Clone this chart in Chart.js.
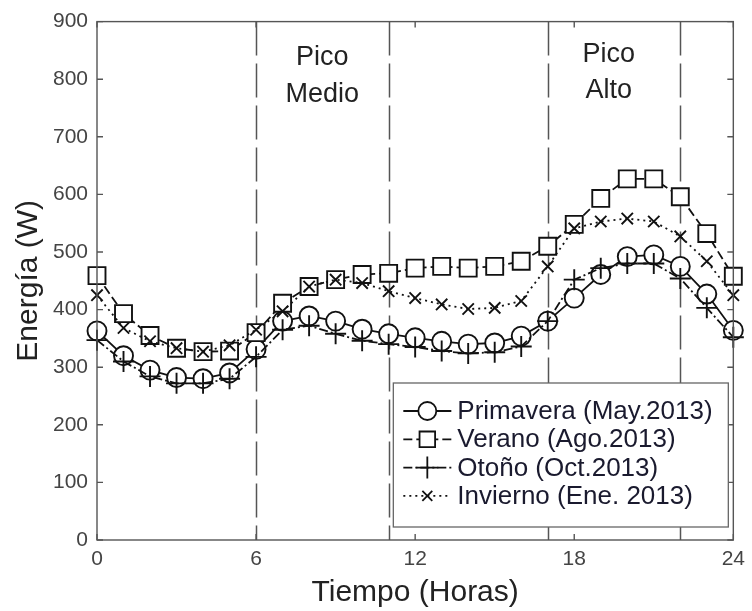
<!DOCTYPE html>
<html>
<head>
<meta charset="utf-8">
<script src="https://cdn.jsdelivr.net/npm/chart.js@4/dist/chart.umd.min.js"></script>
<style>
  body { margin: 0; background: #fff; }
  #wrap { width: 752px; height: 611px; }
</style>
</head>
<body>
<div id="wrap"><canvas id="energyChart"></canvas></div>
<script>
const hours = [0, 1, 2, 3, 4, 5, 6, 7, 8, 9, 10, 11, 12, 13, 14, 15, 16, 17, 18, 19, 20, 21, 22, 23, 24];
const primavera = [363, 320, 295, 282, 280, 290, 331, 380, 389, 380, 366, 358, 351, 345, 340, 342, 354, 380, 420, 461, 492, 495, 475, 427, 364];
const verano = [459, 393, 355, 333, 327, 328, 360, 411, 440, 452, 461, 463, 472, 475, 472, 475, 484, 510, 548, 593, 627, 627, 596, 532, 458];
const otono = [347, 310, 284, 272, 272, 280, 318, 365, 372, 358, 346, 340, 335, 328, 324, 326, 336, 380, 452, 472, 480, 480, 454, 403, 352];
const invierno = [425, 368, 345, 333, 327, 338, 365, 397, 440, 452, 446, 432, 420, 409, 401, 403, 415, 475, 541, 553, 558, 553, 527, 484, 425];
const seriesLabels = ["Primavera (May.2013)", "Verano (Ago.2013)", "Otoño (Oct.2013)", "Invierno (Ene. 2013)"];
const xTicks = [0, 6, 12, 18, 24];
const yTicks = [0, 100, 200, 300, 400, 500, 600, 700, 800, 900];
const periodLines = [6, 11, 17, 22];
const periodNotes = [
  { x: 8.5, lines: ["Pico", "Medio"], y: [838, 774] },
  { x: 19.3, lines: ["Pico", "Alto"], y: [843, 781] }
];

const FONT = "'Liberation Sans', Arial, sans-serif";
const INK = "#111";

function toPoints(values) {
  return values.map((v, i) => ({ x: hours[i], y: v }));
}

// dashed period separators, frame with inward ticks, notes, legend box
const decorations = {
  id: "decorations",
  beforeDatasetsDraw(chart) {
    const { ctx, chartArea: a, scales: { x, y } } = chart;
    ctx.save();
    ctx.strokeStyle = "#555";
    ctx.lineWidth = 1.5;
    ctx.setLineDash([34, 8]);
    periodLines.forEach(h => {
      const px = Math.round(x.getPixelForValue(h)) + 0.5;
      ctx.beginPath();
      ctx.moveTo(px, a.top);
      ctx.lineTo(px, a.bottom);
      ctx.stroke();
    });
    ctx.setLineDash([]);

    ctx.fillStyle = "#222";
    ctx.font = "27px " + FONT;
    ctx.textAlign = "center";
    ctx.textBaseline = "middle";
    periodNotes.forEach(n => {
      n.lines.forEach((t, i) => ctx.fillText(t, x.getPixelForValue(n.x), y.getPixelForValue(n.y[i])));
    });
    ctx.restore();
  },
  afterDatasetsDraw(chart) {
    const { ctx, chartArea: a, scales: { x, y } } = chart;
    ctx.save();
    // frame and ticks
    ctx.strokeStyle = "#555";
    ctx.lineWidth = 1.4;
    ctx.strokeRect(a.left, a.top, a.right - a.left, a.bottom - a.top);
    ctx.beginPath();
    xTicks.forEach(h => {
      const px = x.getPixelForValue(h);
      ctx.moveTo(px, a.bottom); ctx.lineTo(px, a.bottom - 6);
      ctx.moveTo(px, a.top); ctx.lineTo(px, a.top + 6);
    });
    yTicks.forEach(v => {
      const py = y.getPixelForValue(v);
      ctx.moveTo(a.left, py); ctx.lineTo(a.left + 6, py);
      ctx.moveTo(a.right, py); ctx.lineTo(a.right - 6, py);
    });
    ctx.stroke();

    // legend
    const bw = 335, bh = 144;
    const bx = a.right - 5 - bw, by = a.bottom - 13 - bh;
    ctx.fillStyle = "#fff";
    ctx.fillRect(bx, by, bw, bh);
    ctx.strokeStyle = "#666";
    ctx.lineWidth = 1.3;
    ctx.strokeRect(bx, by, bw, bh);

    const sizes = [9, 11, 11, 7];
    chart.data.datasets.forEach((ds, i) => {
      const cy = by + 28 + i * 28.3;
      ctx.strokeStyle = INK;
      ctx.lineWidth = 1.8;
      ctx.setLineDash(ds.borderDash || []);
      ctx.beginPath();
      ctx.moveTo(bx + 10, cy);
      ctx.lineTo(bx + 58, cy);
      ctx.stroke();
      ctx.setLineDash([]);
      ctx.fillStyle = "#fff";
      Chart.helpers.drawPoint(ctx, { pointStyle: ds.pointStyle, radius: sizes[i], borderWidth: 1.8, rotation: 0 }, bx + 34, cy);
      ctx.fillStyle = "#1a1a2e";
      ctx.font = "26px " + FONT;
      ctx.textAlign = "left";
      ctx.textBaseline = "middle";
      ctx.fillText(ds.label, bx + 64, cy + 1);
    });
    ctx.restore();
  }
};

function series(label, values, style, radius, dash, order) {
  return {
    label: label,
    data: toPoints(values),
    borderColor: INK,
    borderWidth: 1.8,
    borderDash: dash,
    pointStyle: style,
    pointRadius: radius,
    pointBorderWidth: 1.9,
    pointBorderColor: INK,
    pointBackgroundColor: "#fff",
    tension: 0,
    fill: false,
    clip: false,
    order: order
  };
}

new Chart(document.getElementById("energyChart"), {
  type: "line",
  data: {
    datasets: [
      series(seriesLabels[0], primavera, "circle", 9.5, [], 4),
      series(seriesLabels[1], verano, "rect", 12, [9, 4], 3),
      series(seriesLabels[2], otono, "cross", 10.5, [9, 3, 2, 3], 2),
      series(seriesLabels[3], invierno, "crossRot", 8, [2, 4], 1)
    ]
  },
  options: {
    responsive: true,
    maintainAspectRatio: false,
    animation: false,
    layout: { padding: { top: 19, right: 14, left: 0, bottom: 0 } },
    plugins: {
      legend: { display: false },
      tooltip: { enabled: false }
    },
    scales: {
      x: {
        type: "linear",
        min: 0,
        max: 24,
        afterFit: s => { s.height = 71; },
        afterBuildTicks: s => { s.ticks = xTicks.map(v => ({ value: v })); },
        grid: { display: false, drawTicks: false },
        border: { display: false },
        ticks: { color: "#444", font: { family: FONT, size: 21 }, padding: 7, maxRotation: 0 },
        title: { display: true, text: "Tiempo (Horas)", color: "#222", font: { family: FONT, size: 30 }, padding: { top: 0, bottom: 0 } }
      },
      y: {
        min: 0,
        max: 900,
        afterFit: s => { s.width = 97; },
        afterBuildTicks: s => { s.ticks = yTicks.map(v => ({ value: v })); },
        grid: { display: false, drawTicks: false },
        border: { display: false },
        ticks: { color: "#444", font: { family: FONT, size: 21 }, padding: 9 },
        title: { display: true, text: "Energía (W)", color: "#222", font: { family: FONT, size: 30 }, padding: { top: 11, bottom: 0 } }
      }
    }
  },
  plugins: [decorations]
});
</script>
</body>
</html>
